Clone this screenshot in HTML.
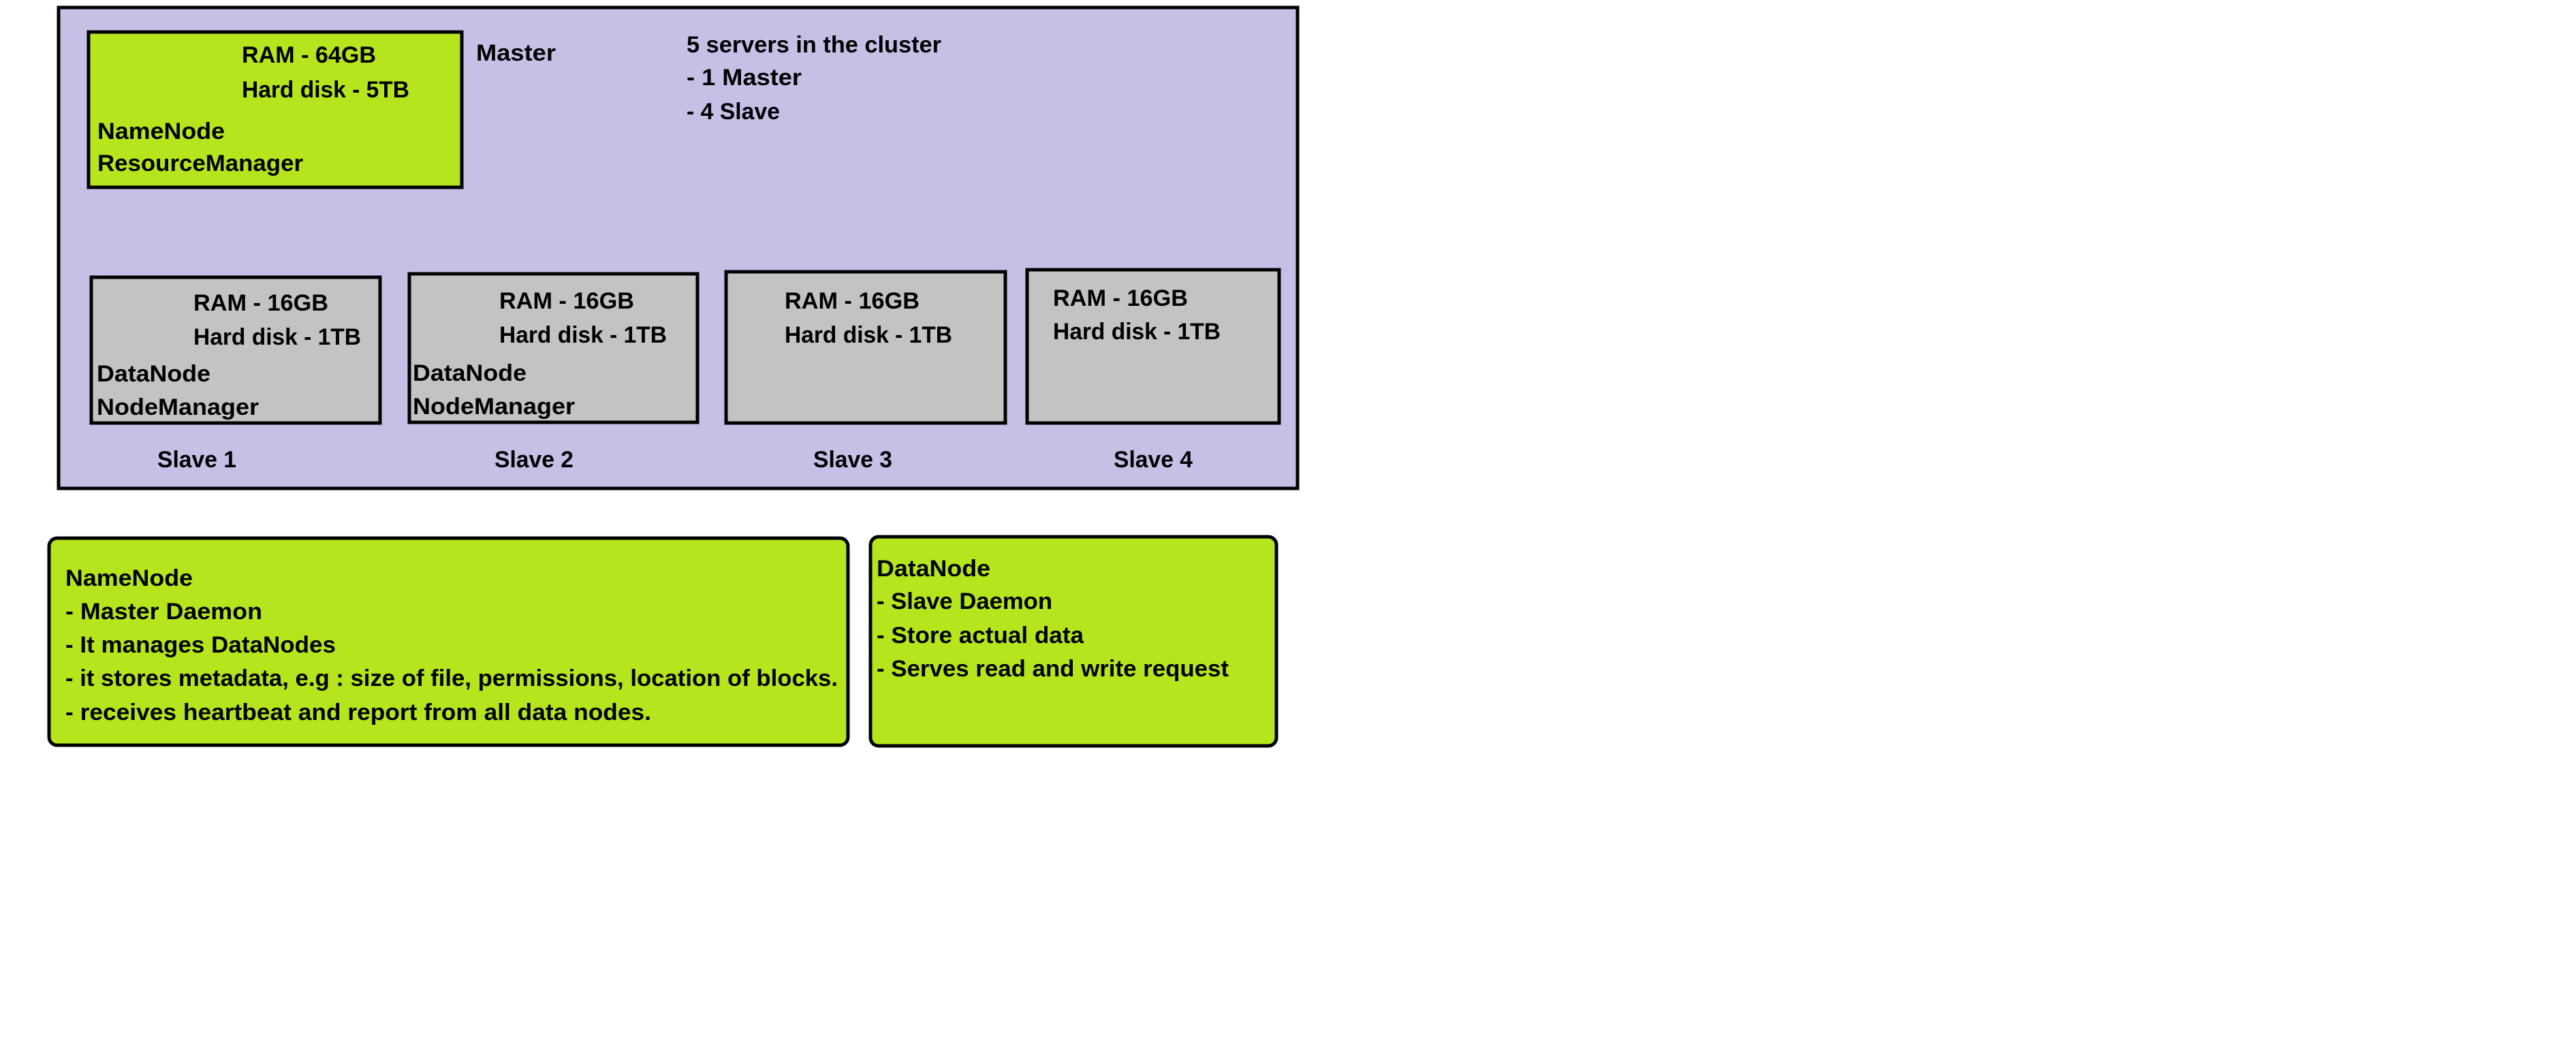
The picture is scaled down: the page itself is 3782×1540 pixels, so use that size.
<!DOCTYPE html>
<html><head><meta charset="utf-8"><style>
html,body{margin:0;padding:0;background:#fff;}
svg{display:block}
text{font-family:"Liberation Sans",sans-serif;font-weight:bold;font-size:34px;fill:#000}
</style></head><body>
<svg width="3782" height="1540" viewBox="0 0 3782 1540" xmlns="http://www.w3.org/2000/svg">
<rect x="0" y="0" width="3782" height="1540" fill="#fff"/>
<rect x="86" y="11" width="1819" height="706" fill="#c8bfe7" stroke="#000" stroke-width="5"/>
<rect x="130" y="47" width="548" height="228" fill="#b5e61d" stroke="#000" stroke-width="5"/>
<rect x="134" y="407" width="424" height="214" fill="#c3c3c3" stroke="#000" stroke-width="5"/>
<rect x="601" y="402" width="423" height="218" fill="#c3c3c3" stroke="#000" stroke-width="5"/>
<rect x="1066" y="399" width="410" height="222" fill="#c3c3c3" stroke="#000" stroke-width="5"/>
<rect x="1508" y="396" width="370" height="225" fill="#c3c3c3" stroke="#000" stroke-width="5"/>
<rect x="72" y="790" width="1173" height="304" rx="12" fill="#b5e61d" stroke="#000" stroke-width="5"/>
<rect x="1278" y="788" width="596" height="307" rx="12" fill="#b5e61d" stroke="#000" stroke-width="5"/>

<text x="355" y="92" textLength="197" lengthAdjust="spacingAndGlyphs">RAM - 64GB</text>
<text x="355" y="143" textLength="246" lengthAdjust="spacingAndGlyphs">Hard disk - 5TB</text>
<text x="143" y="204" textLength="187" lengthAdjust="spacingAndGlyphs">NameNode</text>
<text x="143" y="251" textLength="302" lengthAdjust="spacingAndGlyphs">ResourceManager</text>
<text x="699" y="89" textLength="117" lengthAdjust="spacingAndGlyphs">Master</text>
<text x="1008" y="77" textLength="374" lengthAdjust="spacingAndGlyphs">5 servers in the cluster</text>
<text x="1008" y="125" textLength="169" lengthAdjust="spacingAndGlyphs">- 1 Master</text>
<text x="1008" y="175" textLength="137" lengthAdjust="spacingAndGlyphs">- 4 Slave</text>

<text x="284" y="456" textLength="198" lengthAdjust="spacingAndGlyphs">RAM - 16GB</text>
<text x="284" y="506" textLength="246" lengthAdjust="spacingAndGlyphs">Hard disk - 1TB</text>
<text x="142" y="560" textLength="167" lengthAdjust="spacingAndGlyphs">DataNode</text>
<text x="142" y="609" textLength="238" lengthAdjust="spacingAndGlyphs">NodeManager</text>

<text x="733" y="453" textLength="198" lengthAdjust="spacingAndGlyphs">RAM - 16GB</text>
<text x="733" y="503" textLength="246" lengthAdjust="spacingAndGlyphs">Hard disk - 1TB</text>
<text x="606" y="559" textLength="167" lengthAdjust="spacingAndGlyphs">DataNode</text>
<text x="606" y="608" textLength="238" lengthAdjust="spacingAndGlyphs">NodeManager</text>

<text x="1152" y="453" textLength="198" lengthAdjust="spacingAndGlyphs">RAM - 16GB</text>
<text x="1152" y="503" textLength="246" lengthAdjust="spacingAndGlyphs">Hard disk - 1TB</text>

<text x="1546" y="449" textLength="198" lengthAdjust="spacingAndGlyphs">RAM - 16GB</text>
<text x="1546" y="498" textLength="246" lengthAdjust="spacingAndGlyphs">Hard disk - 1TB</text>

<text x="231" y="686" textLength="116" lengthAdjust="spacingAndGlyphs">Slave 1</text>
<text x="726" y="686" textLength="116" lengthAdjust="spacingAndGlyphs">Slave 2</text>
<text x="1194" y="686" textLength="116" lengthAdjust="spacingAndGlyphs">Slave 3</text>
<text x="1635" y="686" textLength="116" lengthAdjust="spacingAndGlyphs">Slave 4</text>

<text x="96" y="860" textLength="187" lengthAdjust="spacingAndGlyphs">NameNode</text>
<text x="96" y="909" textLength="289" lengthAdjust="spacingAndGlyphs">- Master Daemon</text>
<text x="96" y="958" textLength="397" lengthAdjust="spacingAndGlyphs">- It manages DataNodes</text>
<text x="96" y="1007" textLength="1134" lengthAdjust="spacingAndGlyphs">- it stores metadata, e.g : size of file, permissions, location of blocks.</text>
<text x="96" y="1057" textLength="860" lengthAdjust="spacingAndGlyphs">- receives heartbeat and report from all data nodes.</text>

<text x="1287" y="846" textLength="167" lengthAdjust="spacingAndGlyphs">DataNode</text>
<text x="1287" y="894" textLength="258" lengthAdjust="spacingAndGlyphs">- Slave Daemon</text>
<text x="1287" y="944" textLength="304" lengthAdjust="spacingAndGlyphs">- Store actual data</text>
<text x="1287" y="993" textLength="517" lengthAdjust="spacingAndGlyphs">- Serves read and write request</text>
</svg>
</body></html>
